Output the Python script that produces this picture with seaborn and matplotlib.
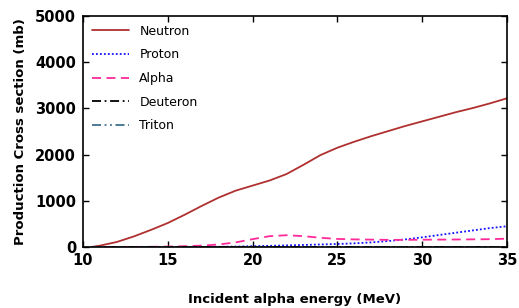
import matplotlib
matplotlib.use("Agg")
import matplotlib.pyplot as plt
import seaborn as sns
import pandas as pd

energy = [10.5, 11, 12, 13, 14, 15, 16, 17, 18, 19, 20, 21, 22, 23, 24, 25, 26, 27, 28, 29, 30, 31, 32, 33, 34, 35]
neutron = [0, 30, 110, 230, 370, 520, 700, 890, 1070, 1220, 1330, 1440, 1580, 1780, 1990, 2150, 2280, 2400, 2510, 2620, 2720, 2820, 2920, 3010, 3110, 3220]
proton = [0, 0, 0, 0, 0, 0, 0, 2, 5, 10, 18, 25, 35, 45, 55, 65, 80, 100, 130, 165, 210, 260, 310, 360, 410, 450]
alpha = [0, 0, 0, 2, 5, 10, 18, 30, 55, 100, 170, 235, 255, 235, 200, 175, 165, 160, 155, 155, 158, 160, 163, 166, 170, 180]
deuteron = [0] * len(energy)
triton = [0] * len(energy)

series = ["Neutron", "Proton", "Alpha", "Deuteron", "Triton"]
values = [neutron, proton, alpha, deuteron, triton]
colors = ["#b03030", "#1010ff", "#ff2a9a", "#000000", "#3f6f8f"]
styles = ["-", (0, (1, 1.2)), (0, (5, 3)), (0, (5, 2, 1, 2)), (0, (5, 2, 1, 2, 1, 2))]

df = pd.concat([pd.DataFrame({"E": energy, "sigma": v, "s": n}) for n, v in zip(series, values)])

sns.set_style("ticks")
plt.rcParams.update({
    "xtick.direction": "in", "ytick.direction": "in",
    "text.color": "black", "axes.labelcolor": "black",
    "xtick.color": "black", "ytick.color": "black", "axes.edgecolor": "black",
})

fig = plt.figure(figsize=(5.19, 3.08), dpi=100)
ax = fig.add_axes([0.160, 0.198, 0.817, 0.750])

for n, c, ls in zip(series, colors, styles):
    d = df[df["s"] == n]
    sns.lineplot(data=d, x="E", y="sigma", ax=ax, color=c, linestyle=ls, linewidth=1.3, label=n)

ax.set_xlim(10, 35)
ax.set_ylim(0, 5000)
ax.set_xticks([10, 15, 20, 25, 30, 35])
ax.set_yticks([0, 1000, 2000, 3000, 4000, 5000])
ax.tick_params(top=True, right=True, length=4, width=1, labelsize=10.5)
ax.tick_params(axis="y", pad=5)
ax.tick_params(axis="x", pad=4)
for lab in ax.get_xticklabels() + ax.get_yticklabels():
    lab.set_fontweight("bold")
for sp in ax.spines.values():
    sp.set_linewidth(1.2)
ax.set_xlabel("Incident alpha energy (MeV)", fontsize=9.5, fontweight="bold", labelpad=18)
ax.set_ylabel("Production Cross section (mb)", fontsize=9.5, fontweight="bold", labelpad=6)
ax.legend(loc="upper left", frameon=False, fontsize=9, handlelength=3, labelspacing=0.85,
          borderaxespad=0.3)

fig.savefig("out.png", dpi=100)
